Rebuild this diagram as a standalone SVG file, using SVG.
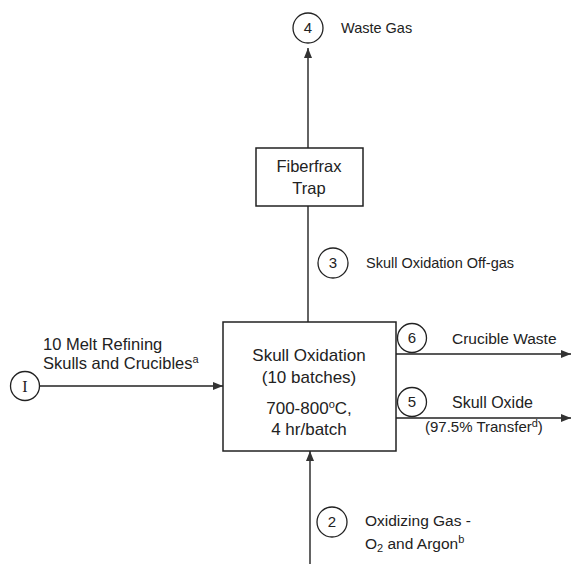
<svg xmlns="http://www.w3.org/2000/svg" width="572" height="564" viewBox="0 0 572 564">
<defs>
<marker id="ah" markerWidth="10" markerHeight="8" refX="10" refY="4" orient="auto" markerUnits="userSpaceOnUse">
<path d="M0,0 L10,4 L0,8 Z" fill="#333"/>
</marker>
<style>
.ln{stroke:#222;stroke-width:1.4;fill:none}
.bx{stroke:#222;stroke-width:1.5;fill:#fff}
.cr{stroke:#222;stroke-width:1.3;fill:#fff}
text{font-family:"Liberation Sans",Arial,sans-serif;fill:#222}
.t{font-size:14.5px}
.b{font-size:17px;text-anchor:middle}
.n{font-size:15px;text-anchor:middle}
.sup{font-size:11px}
</style>
</defs>
<rect width="572" height="564" fill="#fff"/>
<g id="connectors">
<line class="ln" x1="308" y1="148" x2="308" y2="48" marker-end="url(#ah)"/>
<line class="ln" x1="308" y1="322" x2="308" y2="206"/>
<line class="ln" x1="40" y1="386" x2="223" y2="386" marker-end="url(#ah)"/>
<line class="ln" x1="396" y1="354" x2="571" y2="354" marker-end="url(#ah)"/>
<line class="ln" x1="396" y1="418" x2="571" y2="418" marker-end="url(#ah)"/>
<line class="ln" x1="310" y1="564" x2="310" y2="451" marker-end="url(#ah)"/>
</g>
<g id="stream4">
<circle class="cr" cx="308" cy="28" r="15"/>
<text class="n" x="308" y="33">4</text>
<text class="t" x="341" y="33">Waste Gas</text>
</g>
<g id="trap">
<rect class="bx" x="256" y="148" width="107" height="58"/>
<text class="b" x="309" y="172" style="font-size:16.5px">Fiberfrax</text>
<text class="b" x="309" y="194" style="font-size:16.5px">Trap</text>
</g>
<g id="stream3">
<circle class="cr" cx="333" cy="263" r="15"/>
<text class="n" x="333" y="268">3</text>
<text class="t" x="366" y="268">Skull Oxidation Off-gas</text>
</g>
<g id="oxidation">
<rect class="bx" x="223" y="322" width="173" height="129"/>
<text class="b" x="309" y="361">Skull Oxidation</text>
<text class="b" x="309" y="383">(10 batches)</text>
<text class="b" x="309" y="414">700-800<tspan class="sup" dy="-6">o</tspan><tspan dy="6">C,</tspan></text>
<text class="b" x="309" y="435">4 hr/batch</text>
</g>
<g id="stream1">
<circle class="cr" cx="25" cy="386" r="14.5"/>
<text class="n" x="25" y="392" style="font-family:'Liberation Serif',serif;font-size:16px">I</text>
<text class="t" x="43" y="350" style="font-size:16.5px">10 Melt Refining</text>
<text class="t" x="43" y="369" style="font-size:16.5px">Skulls and Crucibles<tspan class="sup" dy="-6">a</tspan></text>
</g>
<g id="stream6">
<circle class="cr" cx="412" cy="338" r="14.5"/>
<text class="n" x="412" y="343">6</text>
<text class="t" x="452" y="344" style="font-size:15.5px">Crucible Waste</text>
</g>
<g id="stream5">
<circle class="cr" cx="412" cy="402" r="14.5"/>
<text class="n" x="412" y="407">5</text>
<text class="t" x="452" y="408" style="font-size:16px">Skull Oxide</text>
<text class="t" x="425" y="432" style="font-size:15px">(97.5% Transfer<tspan class="sup" dy="-5">d</tspan><tspan dy="5">)</tspan></text>
</g>
<g id="stream2">
<circle class="cr" cx="332" cy="522" r="15"/>
<text class="n" x="332" y="527">2</text>
<text class="t" x="365" y="526" style="font-size:15.5px">Oxidizing Gas -</text>
<text class="t" x="365" y="549" style="font-size:15.5px">O<tspan class="sup" dy="3">2</tspan><tspan dy="-3"> and Argon</tspan><tspan class="sup" dy="-6">b</tspan></text>
</g>
</svg>
